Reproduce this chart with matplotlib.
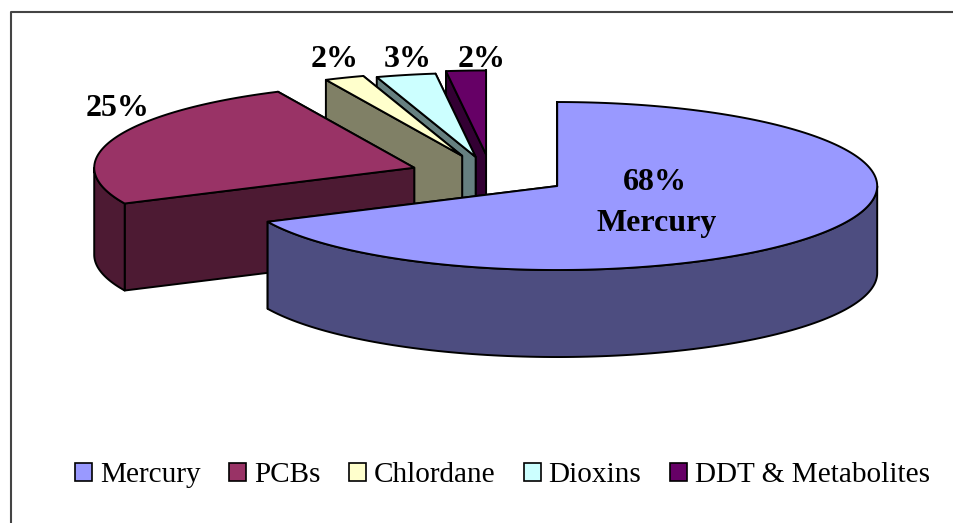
import numpy as np
import matplotlib
matplotlib.use("Agg")
import matplotlib.pyplot as plt
from matplotlib.patches import Polygon, Patch

# values (percent)
names = ["Mercury", "PCBs", "Chlordane", "Dioxins", "DDT & Metabolites"]
values = [68, 25, 2, 3, 2]
top_colors = ["#9999FF", "#993366", "#FFFFCC", "#CCFFFF", "#660066"]
side_colors = ["#4D4D80", "#4D1A33", "#808066", "#668080", "#330033"]

# pie geometry in pixels
cx, cy = 491, 175
rx, ry = 320, 84
depth = 87
explode = [0.245, 0.255, 0.245, 0.22, 0.245]
edge_w = 1.4

plt.rcParams["font.family"] = ["Liberation Serif", "DejaVu Serif"]

fig = plt.figure(figsize=(9.54, 5.23), dpi=100)
ax = fig.add_axes([0, 0, 1, 1])
ax.set_xlim(0, 954)
ax.set_ylim(523, 0)
ax.axis("off")

# frame of the chart area, only top and left show
ax.plot([954, 11.5, 11.5], [11.5, 11.5, 523], color="#444444", lw=1.5, zorder=1)


def rim_point(ox, oy, deg):
    t = np.radians(deg)
    return ox + rx * np.sin(t), oy - ry * np.cos(t)


def add_poly(pts, color, z):
    ax.add_patch(Polygon(pts, closed=True, facecolor=color, edgecolor="black",
                         lw=edge_w, joinstyle="round", zorder=z))


# angles run clockwise from 12 o'clock
edges = np.cumsum([0] + values) * 3.6

# back slices first so the big one lands on top
order = [4, 3, 2, 1, 0]
for z, i in enumerate(order):
    a0, a1 = edges[i], edges[i + 1]
    mid = (a0 + a1) / 2
    ox, oy = rim_point(cx, cy, mid)
    ox = cx + (ox - cx) * explode[i]
    oy = cy + (oy - cy) * explode[i]
    base = 10 + z * 10

    for a in (a1, a0):
        x, y = rim_point(ox, oy, a)
        add_poly([(ox, oy), (x, y), (x, y + depth), (ox, oy + depth)], side_colors[i], base)

    lo, hi = max(a0, 90), min(a1, 270)
    if hi > lo:
        th = np.linspace(lo, hi, 120)
        x, y = rim_point(ox, oy, th)
        pts = list(zip(x, y)) + list(zip(x[::-1], y[::-1] + depth))
        add_poly(pts, side_colors[i], base + 1)

    th = np.linspace(a0, a1, 200)
    x, y = rim_point(ox, oy, th)
    add_poly([(ox, oy)] + list(zip(x, y)), top_colors[i], base + 2)

# data labels
lab = dict(fontsize=23, fontweight="bold", ha="center", va="baseline", color="black", zorder=100)
ax.text(655, 190, f"{values[0]}%", **lab)
ax.text(657, 231, names[0], **lab)
ax.text(118, 116, f"{values[1]}%", **lab)
ax.text(335, 67, f"{values[2]}%", **lab)
ax.text(408, 67, f"{values[3]}%", **lab)
ax.text(482, 67, f"{values[4]}%", **lab)

handles = [Patch(facecolor=c, edgecolor="black", lw=1.2) for c in top_colors]
ax.legend(handles, names, ncol=5, loc="center left", bbox_to_anchor=(75, 475),
          bbox_transform=ax.transData, frameon=False, fontsize=21.1,
          handlelength=0.58, handleheight=0.58, handletextpad=0.27,
          columnspacing=0.97, borderpad=0, borderaxespad=0, labelcolor="black")

fig.savefig("out.png", dpi=100)
